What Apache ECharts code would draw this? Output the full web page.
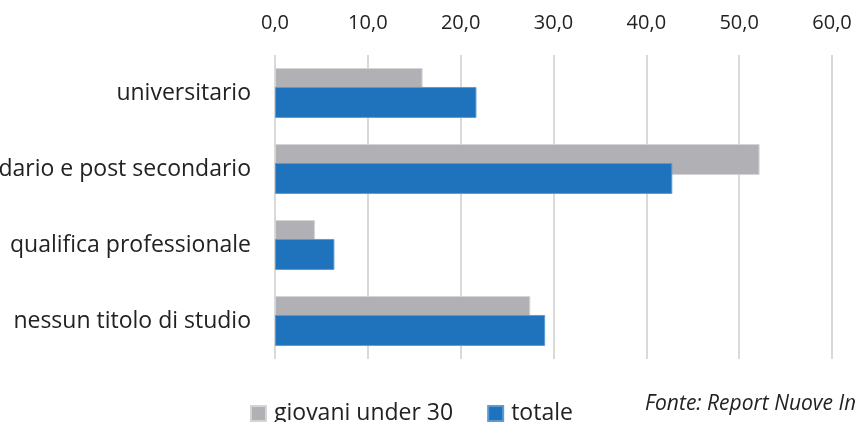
<!DOCTYPE html>
<html>
<head>
<meta charset="utf-8">
<script src="https://cdn.jsdelivr.net/npm/echarts@6/dist/echarts.min.js"></script>
<style>
  html, body { margin: 0; padding: 0; background: #fff; }
  #chart { width: 855px; height: 422px; }
</style>
</head>
<body>
<div id="chart"></div>
<script>
  // categorie (dall'alto in basso)
  const categories = ['universitario', 'secondario e post secondario', 'qualifica professionale', 'nessun titolo di studio']
  const giovaniUnder30 = [15.9, 52.2, 4.3, 27.5]
  const totale = [21.7, 42.8, 6.4, 29.1]
  const seriesNames = ['giovani under 30', 'totale']

  const myChart = echarts.init(document.getElementById('chart'))
  const font = '"Open Sans", "Noto Sans", sans-serif'

  myChart.setOption({
    backgroundColor: '#fff',
    animation: false,
    textStyle: { fontFamily: font },
    grid: { left: 275, right: 23, top: 55, height: 304, containLabel: false, outerBoundsMode: 'none' },
    legend: {
      data: seriesNames,
      left: 245,
      top: 397,
      itemWidth: 15,
      itemHeight: 15,
      itemGap: 34,
      icon: 'rect',
      textStyle: { fontSize: 23, color: '#222', fontFamily: font, padding: [0, 0, 0, 3] }
    },
    xAxis: {
      type: 'value',
      position: 'top',
      min: 0,
      max: 60,
      interval: 10,
      axisLine: { show: false },
      axisTick: { show: false },
      axisLabel: {
        margin: 22,
        fontSize: 20,
        color: '#222',
        formatter: v => v.toFixed(1).replace('.', ',')
      },
      splitLine: { lineStyle: { color: '#d9d9d9', width: 2 } }
    },
    yAxis: {
      type: 'category',
      inverse: true,
      data: categories,
      axisLine: { show: false },
      axisTick: { show: false },
      axisLabel: { margin: 24, fontSize: 23, color: '#222' }
    },
    series: [
      {
        name: seriesNames[0],
        type: 'bar',
        data: giovaniUnder30,
        barWidth: 31,
        barGap: '-39%',
        itemStyle: { color: '#b1b0b4', borderColor: '#d4d3d6', borderWidth: 1 }
      },
      {
        name: seriesNames[1],
        type: 'bar',
        data: totale,
        barWidth: 31,
        barGap: '-39%',
        itemStyle: { color: '#1f73bd', borderColor: '#5b9bd5', borderWidth: 1 }
      }
    ],
    graphic: [
      {
        type: 'text',
        left: 645,
        top: 394,
        style: {
          text: 'Fonte: Report Nuove Imprese',
          font: 'italic 21px "Open Sans", "Noto Sans", sans-serif',
          fill: '#222'
        }
      }
    ]
  })
</script>
</body>
</html>
